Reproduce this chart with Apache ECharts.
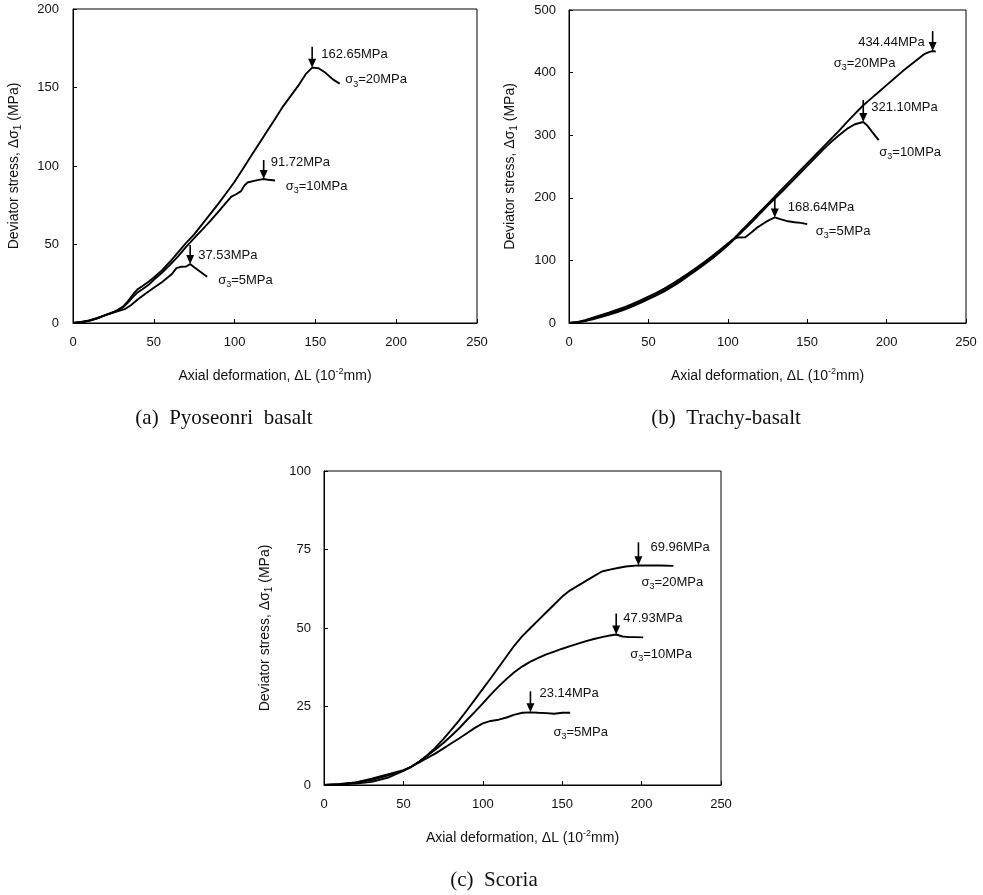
<!DOCTYPE html>
<html>
<head>
<meta charset="utf-8">
<script src="https://cdn.jsdelivr.net/npm/echarts@6/dist/echarts.min.js"></script>
<style>
  html, body { margin: 0; padding: 0; background: #fff; }
  #chart { width: 983px; height: 895px; }
</style>
</head>
<body>
<div id="chart"></div>
<script>
// Deviator stress (MPa) vs axial deformation (10^-2 mm) under three confining pressures.

// (a) Pyoseonri basalt
const basalt20 = [[0,0],[5,0.6],[10,1.5],[15,3],[20,5],[25,7],[28,8.5],[31,10.5],[34,14],[37,18],[40,21.5],[43,23.5],[47,26.5],[50,29],[55,33.5],[60,39],[65,45],[70,51],[75,56.5],[80,63],[85,69.5],[90,76],[95,83],[100,90],[105,98],[110,106],[115,114],[120,122],[125,130],[130,138],[135,145],[140,152],[144,158.5],[148,162.65],[152,162.3],[156,159.5],[161,155],[165,152.5]];
const basalt10 = [[0,0],[5,0.5],[10,1.4],[15,3],[20,5],[25,6.8],[28,8.2],[31,10],[34,13],[37,16.5],[40,19.5],[43,21.5],[47,24.5],[50,27.5],[55,32],[60,37],[65,42.5],[70,48.5],[75,54],[80,59.5],[85,65],[90,71],[95,77],[98,80.5],[101,82],[104,84],[106,87.5],[108,89.5],[112,90.5],[115,91.2],[118,91.72],[121,91.2],[125,90.8]];
const basalt5 = [[0,0],[5,0.5],[10,1.6],[15,3.2],[20,5],[25,6.6],[28,7.6],[32,8.8],[36,11.5],[40,15],[45,18.8],[50,22.5],[55,26],[58,28.5],[61,31],[64,35],[67,35.8],[70,36],[72.5,37.53],[75,35.5],[79,32.5],[83,29.5]];
const basaltPeaks = [
  { x: 148, y: 162.65, conf: '20MPa' },
  { x: 118, y: 91.72, conf: '10MPa' },
  { x: 72.5, y: 37.53, conf: '5MPa' }
];

// (b) Trachy-basalt
const trachy20 = [[0,0],[5,1],[10,3.5],[15,7],[20,10.5],[25,14.5],[30,18.5],[35,23],[40,28],[45,33.5],[50,39.5],[55,45.5],[60,52],[65,59.5],[70,68],[75,77],[80,86],[85,95],[90,104],[95,114],[100,125],[105,138],[110,151],[115,164],[120,177],[125,190],[130,203],[135,216],[140,229],[145,242],[150,255],[155,268],[160,281],[165,294],[170,307],[175,321],[180,334],[185,347],[190,358],[195,369],[200,380],[205,391],[210,402],[215,412],[220,422],[224,430],[227,433],[229,434.44],[231,433.5]];
const trachy10 = [[0,0],[5,0.8],[10,3],[15,6],[20,9.5],[25,13],[30,17],[35,21.5],[40,26.5],[45,32],[50,38],[55,44],[60,50.5],[65,58],[70,66],[75,75],[80,84],[85,93],[90,102.5],[95,113],[100,124],[105,136],[110,148.5],[115,161],[120,174],[125,187],[130,199.5],[135,212],[140,225],[145,238],[150,251],[155,264],[160,277],[165,289],[170,300],[175,310],[180,317.5],[185.3,321.1],[188,315],[191,305],[195,292]];
const trachy5 = [[0,0],[5,1.5],[10,4.5],[15,8.5],[20,12.5],[25,16.5],[30,21],[35,25.5],[40,30.5],[45,36],[50,42],[55,48],[60,55],[65,62.5],[70,70.5],[75,79],[80,88],[85,97],[90,106.5],[95,116.5],[100,127],[103,133],[106,136.5],[111,137],[115,145],[118,151.5],[121,156.5],[124,161.5],[127,165.5],[129.6,168.64],[133,166],[137,163],[142,161],[146,160],[150,158]];
const trachyPeaks = [
  { x: 229, y: 434.44, conf: '20MPa' },
  { x: 185.3, y: 321.10, conf: '10MPa' },
  { x: 129.6, y: 168.64, conf: '5MPa' }
];

// (c) Scoria
const scoria20 = [[0,0],[10,0.2],[20,0.5],[30,1.0],[40,2.3],[50,4.5],[55,5.8],[60,7.5],[65,9.5],[70,11.8],[75,14.5],[80,17.5],[85,20.5],[90,23.8],[95,27.2],[100,30.6],[105,34],[110,37.5],[115,41],[120,44.5],[125,47.5],[130,50],[135,52.5],[140,55],[145,57.5],[150,60],[155,62],[160,63.5],[165,65],[170,66.5],[175,68],[180,68.6],[185,69.1],[190,69.6],[198,69.96],[205,69.9],[212,69.9],[220,69.8]];
const scoria10 = [[0,0],[10,0.3],[20,0.8],[30,1.6],[40,3],[50,4.6],[55,5.9],[60,7.5],[65,9.3],[70,11.2],[75,13.3],[80,15.6],[85,18],[90,20.7],[95,23.3],[100,26],[105,28.8],[110,31.4],[115,33.8],[120,36],[125,37.8],[130,39.3],[135,40.5],[140,41.6],[145,42.5],[150,43.4],[155,44.2],[160,45],[165,45.8],[170,46.5],[175,47.1],[180,47.6],[184,47.93],[188,47.3],[192,47.1],[196,47.1],[201,47]];
const scoria5 = [[0,0],[10,0.2],[20,0.8],[30,2],[40,3.4],[50,4.7],[55,5.8],[60,7.2],[65,8.6],[70,10],[75,11.6],[80,13.2],[85,14.8],[90,16.5],[95,18.2],[100,19.6],[105,20.4],[110,20.8],[115,21.5],[120,22.4],[125,23],[130,23.14],[135,23],[140,22.9],[145,22.7],[150,23],[155,23]];
const scoriaPeaks = [
  { x: 198, y: 69.96, conf: '20MPa' },
  { x: 184, y: 47.93, conf: '10MPa' },
  { x: 130, y: 23.14, conf: '5MPa' }
];

const captions = ['(a)  Pyoseonri  basalt', '(b)  Trachy-basalt', '(c)  Scoria'];

const SANS = '"Liberation Sans", Arial, Helvetica, sans-serif';
const SERIF = '"Liberation Serif", "Times New Roman", serif';

// Panel layout in pixels
const panels = [
  { rect: { left: 73, top: 9, width: 404, height: 314 }, yMax: 200, yStep: 50, yMargin: 14,
    series: [basalt20, basalt10, basalt5], peaks: basaltPeaks,
    notes: [
      { arrow: 21, vx: 9, vy: -13, cx: 33, cy: 12 },
      { arrow: 19, vx: 7, vy: -17, cx: 22, cy: 7 },
      { arrow: 19, vx: 8, vy: -9, cx: 28, cy: 16 }
    ], caption: { x: 224, y: 418 } },
  { rect: { left: 569, top: 10, width: 397, height: 313 }, yMax: 500, yStep: 100, yMargin: 13,
    series: [trachy20, trachy10, trachy5], peaks: trachyPeaks,
    notes: [
      { arrow: 20, vx: -8, vy: -9, cx: -99, cy: 12, valueRight: true },
      { arrow: 22, vx: 8, vy: -15, cx: 16, cy: 30 },
      { arrow: 21, vx: 13, vy: -10, cx: 41, cy: 14 }
    ], caption: { x: 726, y: 418 } },
  { rect: { left: 324, top: 471, width: 397, height: 314 }, yMax: 100, yStep: 25, yMargin: 13,
    series: [scoria20, scoria10, scoria5], peaks: scoriaPeaks,
    notes: [
      { arrow: 23, vx: 12, vy: -18, cx: 3, cy: 17 },
      { arrow: 21, vx: 7, vy: -16, cx: 14, cy: 20 },
      { arrow: 21, vx: 9, vy: -19, cx: 23, cy: 20 }
    ], caption: { x: 494, y: 880 } }
];

const chart = echarts.init(document.getElementById('chart'), null, { renderer: 'canvas' });

const grids = [], xAxes = [], yAxes = [], seriesList = [];
panels.forEach((p, i) => {
  grids.push(Object.assign({ show: true, borderColor: '#000', borderWidth: 1, containLabel: false }, p.rect));
  xAxes.push({
    type: 'value', gridIndex: i, min: 0, max: 250, interval: 50,
    axisLine: { show: true, lineStyle: { color: '#000', width: 1 } },
    axisTick: { show: true, inside: true, length: 4, lineStyle: { color: '#000' } },
    axisLabel: { color: '#111', fontSize: 13, fontFamily: SANS, margin: 13 },
    splitLine: { show: false },
    name: '{t|Axial deformation, ΔL (10}{p|-2}{t|mm)}',
    nameLocation: 'middle', nameGap: 44,
    nameTextStyle: {
      rich: {
        t: { fontSize: 14, fontFamily: SANS, color: '#111', lineHeight: 18, verticalAlign: 'middle' },
        p: { fontSize: 9, fontFamily: SANS, color: '#111', verticalAlign: 'top' }
      }
    }
  });
  yAxes.push({
    type: 'value', gridIndex: i, min: 0, max: p.yMax, interval: p.yStep,
    axisLine: { show: true, lineStyle: { color: '#000', width: 1 } },
    axisTick: { show: true, inside: true, length: 4, lineStyle: { color: '#000' } },
    axisLabel: { color: '#111', fontSize: 13, fontFamily: SANS, margin: p.yMargin },
    splitLine: { show: false },
    name: '{t|Deviator stress, Δσ}{b|1}{t| (MPa)}',
    nameLocation: 'middle', nameGap: 50,
    nameTextStyle: {
      rich: {
        t: { fontSize: 14, fontFamily: SANS, color: '#111', lineHeight: 18, verticalAlign: 'middle' },
        b: { fontSize: 10, fontFamily: SANS, color: '#111', verticalAlign: 'bottom' }
      }
    }
  });
  p.series.forEach((data) => {
    seriesList.push({
      type: 'line', xAxisIndex: i, yAxisIndex: i, data: data,
      symbol: 'none', showSymbol: false, smooth: false,
      lineStyle: { color: '#000', width: 1.9 },
      silent: true
    });
  });
});

chart.setOption({
  animation: false,
  backgroundColor: '#fff',
  grid: grids, xAxis: xAxes, yAxis: yAxes, series: seriesList
});

// Peak arrows, strength values and confining-pressure labels
const graphics = [];
panels.forEach((p, i) => {
  p.peaks.forEach((pk, k) => {
    const n = p.notes[k];
    const pt = chart.convertToPixel({ gridIndex: i }, [pk.x, pk.y]);
    const px = pt[0], py = pt[1];
    graphics.push({ type: 'line', silent: true,
      shape: { x1: px, y1: py - n.arrow, x2: px, y2: py - 8 },
      style: { stroke: '#000', lineWidth: 1.6 } });
    graphics.push({ type: 'polygon', silent: true,
      shape: { points: [[px - 4, py - 9], [px + 4, py - 9], [px, py]] },
      style: { fill: '#000' } });
    graphics.push({ type: 'text', silent: true,
      style: { text: pk.y.toFixed(2) + 'MPa', x: px + n.vx, y: py + n.vy,
        fontSize: 13, fontFamily: SANS, fill: '#111',
        align: n.valueRight ? 'right' : 'left', verticalAlign: 'middle' } });
    graphics.push({ type: 'text', silent: true,
      style: { text: '{s|σ}{n|3}{s|=' + pk.conf + '}', x: px + n.cx, y: py + n.cy,
        fill: '#111', align: 'left', verticalAlign: 'middle',
        rich: {
          s: { fontSize: 13, fontFamily: SANS, fill: '#111', lineHeight: 18, verticalAlign: 'middle' },
          n: { fontSize: 9, fontFamily: SANS, fill: '#111', verticalAlign: 'bottom' }
        } } });
  });
  graphics.push({ type: 'text', silent: true,
    style: { text: captions[i], x: p.caption.x, y: p.caption.y,
      fontSize: 21, fontFamily: SERIF, fill: '#111', align: 'center', verticalAlign: 'middle' } });
});

chart.setOption({ graphic: graphics });
</script>
</body>
</html>
